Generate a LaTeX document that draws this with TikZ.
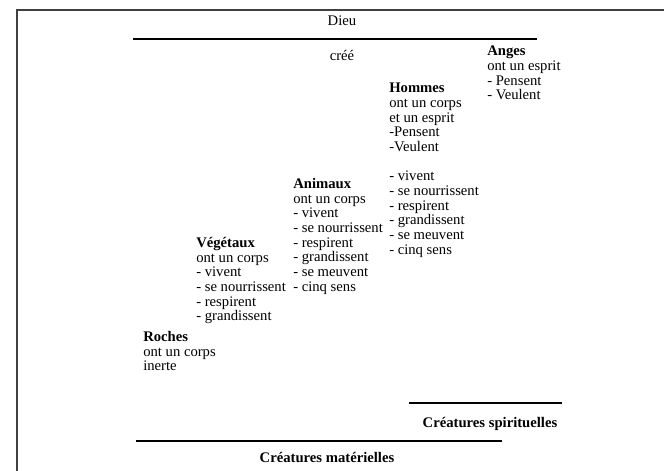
\documentclass[tikz,border=0pt]{standalone}
\usepackage{fontspec}
\setmainfont{Liberation Serif}

\begin{document}
\begin{tikzpicture}[x=0.75pt,y=-0.75pt,
    every node/.style={inner sep=0pt, font=\fontsize{11}{11}\selectfont},
    creature/.style={anchor=north west, align=left},
    titre/.style={anchor=base, font=\fontsize{11}{11}\selectfont\bfseries},
    trait/.style={line width=0.9pt},
    cadre/.style={line width=0.8pt, draw=black!75}]
            \useasboundingbox (0,0) rectangle (664,471);

            % cadre
            \coordinate (cadreB) at (17,471);
            \coordinate (cadreG) at (17,10);
            \coordinate (cadreD) at (664,10);
            \draw[cadre] (cadreB) -- (cadreG) -- (cadreD);

            % Dieu
            \node[anchor=base] (dieu) at (342,26) {Dieu};
            \coordinate (dieuG) at (133,39);
            \coordinate (dieuD) at (537,39);
            \draw[trait] (dieuG) -- (dieuD);
            \node[anchor=base] (cree) at (342,60) {créé};

            % les creatures
            \node[creature] (roches) at (143,331) {\textbf{Roches}\\ont un corps\\inerte};
            \node[creature] (vegetaux) at (196,237) {\textbf{Végétaux}\\ont un corps\\- vivent\\- se nourrissent\\- respirent\\- grandissent};
            \node[creature] (animaux) at (293,178) {\textbf{Animaux}\\ont un corps\\- vivent\\-  se nourrissent\\- respirent\\- grandissent\\-  se meuvent\\- cinq sens};
            \node[creature] (hommes) at (389,83) {\textbf{Hommes}\\ont un corps\\et un esprit\\-Pensent\\-Veulent\\[11pt]- vivent\\- se nourrissent\\- respirent\\- grandissent\\- se meuvent\\- cinq sens};
            \node[creature] (anges) at (487,46) {\textbf{Anges}\\ont un esprit\\- Pensent\\- Veulent};

            % spirituelles
            \coordinate (spiG) at (409,403);
            \coordinate (spiD) at (562,403);
            \draw[trait] (spiG) -- (spiD);
            \node[titre] (spirituelles) at (490,427) {Créatures spirituelles};

            % materielles
            \coordinate (matG) at (136,441);
            \coordinate (matD) at (502,441);
            \draw[trait] (matG) -- (matD);
            \node[titre] (materielles) at (327,462) {Créatures matérielles};
\end{tikzpicture}
\end{document}
